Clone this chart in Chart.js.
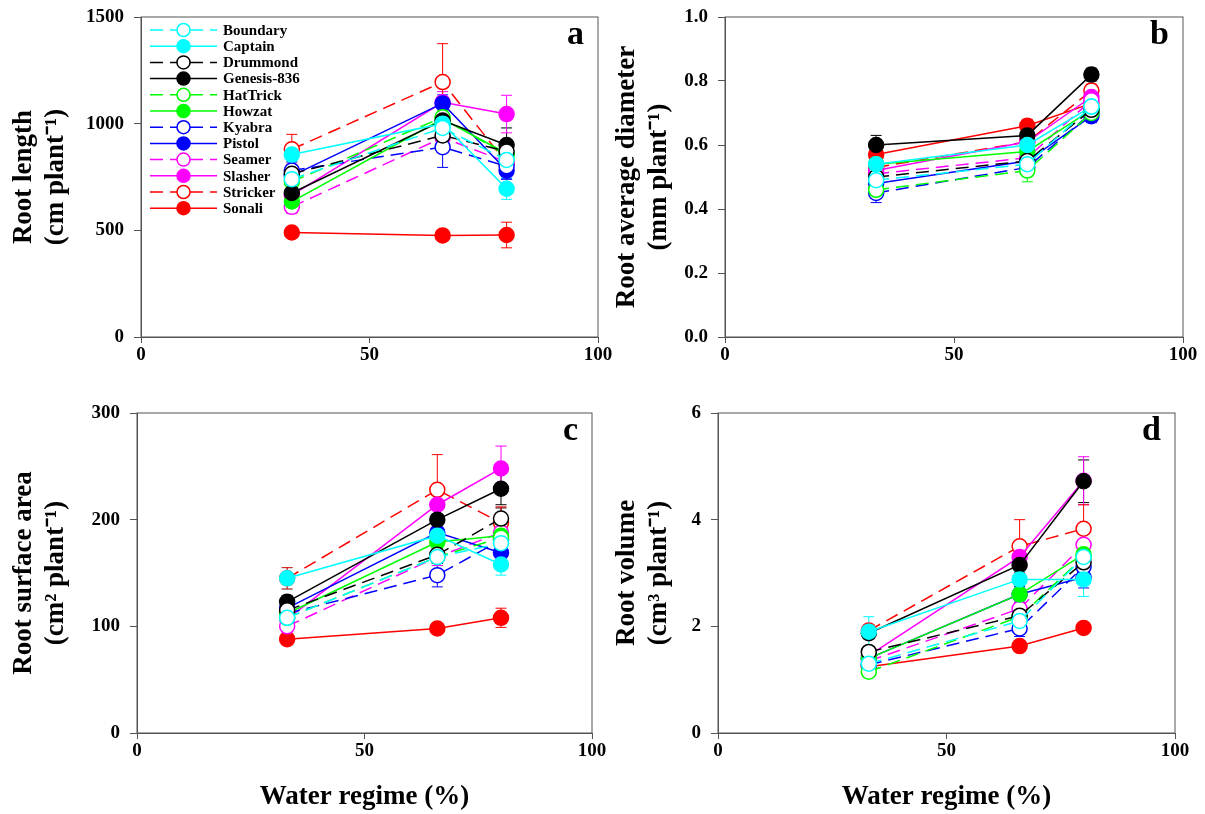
<!DOCTYPE html>
<html>
<head>
<meta charset="utf-8">
<script src="https://cdn.jsdelivr.net/npm/chart.js@4.4.1/dist/chart.umd.min.js"></script>
<style>
body { margin: 0; background: #fff; width: 1205px; height: 814px; position: relative; overflow: hidden; }
.panel { position: absolute; }
</style>
</head>
<body>
<div class="panel" style="left:0;top:0;width:625px;height:400px"><canvas id="chartA"></canvas></div>
<div class="panel" style="left:603px;top:0;width:602px;height:400px"><canvas id="chartB"></canvas></div>
<div class="panel" style="left:0;top:400px;width:625px;height:414px"><canvas id="chartC"></canvas></div>
<div class="panel" style="left:603px;top:400px;width:602px;height:414px"><canvas id="chartD"></canvas></div>
<script>
// water regime levels (%) on the x axis
var waterRegime = [33, 66, 80];
var cultivars = ["Boundary", "Captain", "Drummond", "Genesis-836", "HatTrick", "Howzat",
                 "Kyabra", "Pistol", "Seamer", "Slasher", "Stricker", "Sonali"];

// one row per cultivar, one column per water regime
var rootLength = [
    [740, 980, 830], [855, 1000, 695], [765, 945, 870], [675, 1015, 900],
    [728, 1030, 850], [635, 1022, 860], [780, 890, 800], [755, 1095, 780],
    [610, 935, 820], [665, 1100, 1045], [880, 1195, 815], [490, 476, 478]
];
var rootLengthErr = [
    [30, 40, 40], [30, 40, 50], [30, 40, 40], [30, 40, 80],
    [30, 40, 40], [30, 40, 40], [40, 95, 60], [30, 40, 40],
    [30, 40, 40], [40, 50, 88], [70, 180, 50], [20, 20, 60]
];
var rootDiameter = [
    [0.49, 0.54, 0.72], [0.54, 0.60, 0.72], [0.50, 0.55, 0.71], [0.60, 0.63, 0.82],
    [0.46, 0.52, 0.70], [0.54, 0.58, 0.71], [0.45, 0.53, 0.70], [0.48, 0.55, 0.69],
    [0.51, 0.56, 0.74], [0.52, 0.61, 0.75], [0.53, 0.61, 0.77], [0.57, 0.66, 0.73]
];
var rootDiameterErr = [
    [0.02, 0.02, 0.02], [0.02, 0.02, 0.02], [0.02, 0.02, 0.02], [0.03, 0.02, 0.02],
    [0.02, 0.035, 0.02], [0.02, 0.02, 0.02], [0.03, 0.02, 0.02], [0.02, 0.02, 0.02],
    [0.02, 0.02, 0.02], [0.02, 0.02, 0.02], [0.02, 0.02, 0.02], [0.02, 0.02, 0.02]
];
var rootSurface = [
    [108, 165, 178], [145, 185, 158], [115, 167, 201], [123, 200, 229],
    [108, 165, 183], [112, 179, 185], [112, 148, 181], [117, 188, 169],
    [100, 165, 188], [107, 214, 248], [145, 228, 197], [88, 98, 108]
];
var rootSurfaceErr = [
    [5, 8, 10], [10, 10, 10], [5, 8, 10], [6, 10, 15],
    [5, 8, 10], [5, 8, 10], [6, 11, 15], [5, 8, 10],
    [5, 8, 10], [6, 15, 21], [10, 33, 15], [4, 4, 9]
];
var rootVolume = [
    [1.30, 2.10, 3.30], [1.90, 2.88, 2.88], [1.52, 2.20, 3.20], [1.87, 3.15, 4.72],
    [1.15, 2.18, 3.30], [1.40, 2.60, 3.35], [1.28, 1.96, 3.12], [1.40, 2.60, 2.92],
    [1.35, 2.33, 3.53], [1.45, 3.30, 4.73], [1.92, 3.50, 3.83], [1.24, 1.63, 1.97]
];
var rootVolumeErr = [
    [0.08, 0.15, 0.2], [0.28, 0.15, 0.32], [0.08, 0.15, 0.2], [0.1, 0.15, 0.4],
    [0.08, 0.15, 0.2], [0.08, 0.15, 0.2], [0.08, 0.15, 0.2], [0.08, 0.15, 0.2],
    [0.08, 0.15, 0.2], [0.1, 0.2, 0.45], [0.1, 0.5, 0.45], [0.05, 0.05, 0.05]
];

var seriesColors = ["#00ffff", "#00ffff", "#000000", "#000000", "#00ff00", "#00ff00",
                    "#0000ff", "#0000ff", "#ff00ff", "#ff00ff", "#ff0000", "#ff0000"];
var openMarker = [true, false, true, false, true, false, true, false, true, false, true, false];

Chart.defaults.font.family = "'Liberation Serif', 'Times New Roman', serif";
Chart.defaults.font.weight = "bold";
Chart.defaults.color = "#000";

function makeDatasets(values, errors) {
    return cultivars.map(function (name, i) {
        return {
            label: name,
            data: waterRegime.map(function (x, j) { return { x: x, y: values[i][j] }; }),
            errors: errors[i],
            showLine: true,
            borderColor: seriesColors[i],
            borderWidth: 1.5,
            borderDash: openMarker[i] ? [13, 7] : [],
            pointRadius: 7.5,
            pointHoverRadius: 7.5,
            pointBorderWidth: 1.5,
            pointBorderColor: seriesColors[i],
            pointBackgroundColor: openMarker[i] ? "#fff" : seriesColors[i]
        };
    });
}

// vertical error bars with caps, under the markers
var errorBars = {
    id: "errorBars",
    beforeDatasetsDraw: function (chart) {
        var ctx = chart.ctx, xs = chart.scales.x, ys = chart.scales.y;
        chart.data.datasets.forEach(function (ds) {
            ctx.save();
            ctx.strokeStyle = ds.borderColor;
            ctx.lineWidth = 1;
            ds.data.forEach(function (p, j) {
                var e = ds.errors[j];
                if (!e) return;
                var px = xs.getPixelForValue(p.x);
                var hi = ys.getPixelForValue(p.y + e), lo = ys.getPixelForValue(p.y - e);
                ctx.beginPath();
                ctx.moveTo(px, hi); ctx.lineTo(px, lo);
                ctx.moveTo(px - 5.5, hi); ctx.lineTo(px + 5.5, hi);
                ctx.moveTo(px - 5.5, lo); ctx.lineTo(px + 5.5, lo);
                ctx.stroke();
            });
            ctx.restore();
        });
    }
};

var frame = {
    id: "frame",
    afterDraw: function (chart) {
        var a = chart.chartArea, ctx = chart.ctx;
        ctx.save();
        ctx.strokeStyle = "#555";
        ctx.lineWidth = 1;
        ctx.strokeRect(a.left, a.top, a.right - a.left, a.bottom - a.top);
        ctx.restore();
    }
};

var panelLabel = {
    id: "panelLabel",
    afterDraw: function (chart, args, opts) {
        var a = chart.chartArea, ctx = chart.ctx;
        ctx.save();
        ctx.font = "bold 34px 'Liberation Serif'";
        ctx.fillStyle = "#000";
        ctx.textAlign = "right";
        ctx.textBaseline = "middle";
        ctx.fillText(opts.text, a.right - 14, a.top + 18);
        ctx.restore();
    }
};

// legend inside panel a, top-left corner
var insideLegend = {
    id: "insideLegend",
    afterDraw: function (chart) {
        var ctx = chart.ctx, a = chart.chartArea;
        ctx.save();
        ctx.font = "bold 15px 'Liberation Serif'";
        ctx.textBaseline = "middle";
        ctx.fillStyle = "#000";
        chart.data.datasets.forEach(function (ds, i) {
            var y = a.top + 13 + i * 16.2;
            var x0 = a.left + 9, x1 = a.left + 76, xm = (x0 + x1) / 2;
            ctx.strokeStyle = ds.borderColor;
            ctx.lineWidth = 1.5;
            ctx.setLineDash(ds.borderDash);
            ctx.beginPath();
            ctx.moveTo(x0, y); ctx.lineTo(x1, y);
            ctx.stroke();
            ctx.setLineDash([]);
            ctx.beginPath();
            ctx.arc(xm, y, 6.5, 0, Math.PI * 2);
            ctx.fillStyle = ds.pointBackgroundColor;
            ctx.fill();
            ctx.stroke();
            ctx.fillStyle = "#000";
            ctx.fillText(ds.label, a.left + 82, y + 1);
        });
        ctx.restore();
    }
};

function makeChart(id, values, errors, o) {
    var plugins = [errorBars, frame, panelLabel];
    if (o.legend) plugins.push(insideLegend);
    return new Chart(document.getElementById(id), {
        type: "scatter",
        data: { datasets: makeDatasets(values, errors) },
        options: {
            responsive: true,
            maintainAspectRatio: false,
            animation: false,
            events: [],
            layout: { padding: { top: o.padTop, right: o.padRight, left: 0, bottom: 0 } },
            plugins: {
                legend: { display: false },
                tooltip: { enabled: false },
                panelLabel: { text: o.label }
            },
            scales: {
                x: {
                    type: "linear", min: 0, max: 100,
                    ticks: { stepSize: 50, padding: 1, font: { size: 19, weight: "bold" },
                             callback: function (v) { return String(v); } },
                    grid: { drawOnChartArea: false, tickLength: 6, color: "#555" },
                    border: { color: "#555" },
                    title: { display: o.xTitle, text: "Water regime (%)",
                             font: { size: 27, weight: "bold", lineHeight: 1.2 }, padding: { bottom: 1 } },
                    afterFit: function (s) { s.height = o.xHeight; s.paddingLeft = 0; s.paddingRight = 0; }
                },
                y: {
                    type: "linear", min: 0, max: o.yMax,
                    ticks: { stepSize: o.yStep, padding: 10, font: { size: 19, weight: "bold" },
                             callback: function (v) { return o.decimals ? v.toFixed(1) : String(v); } },
                    grid: { drawOnChartArea: false, tickLength: 7, color: "#555" },
                    border: { color: "#555" },
                    title: { display: true, text: o.yTitle,
                             font: { size: 27, weight: "bold", lineHeight: 1.15 }, padding: { top: 9 } },
                    afterFit: function (s) { s.width = o.yWidth; s.paddingTop = 0; s.paddingBottom = 0; }
                }
            }
        },
        plugins: plugins
    });
}

makeChart("chartA", rootLength, rootLengthErr, {
    label: "a", legend: true, padTop: 17, padRight: 27, yWidth: 141, xHeight: 63, xTitle: false,
    yMax: 1500, yStep: 500, yTitle: ["Root length", "(cm plant\u207B\u00B9)"]
});
makeChart("chartB", rootDiameter, rootDiameterErr, {
    label: "b", padTop: 17, padRight: 22, yWidth: 122, xHeight: 63, xTitle: false,
    yMax: 1.0, yStep: 0.2, decimals: true, yTitle: ["Root average diameter", "(mm plant\u207B\u00B9)"]
});
makeChart("chartC", rootSurface, rootSurfaceErr, {
    label: "c", padTop: 13, padRight: 33, yWidth: 137, xHeight: 81, xTitle: true,
    yMax: 300, yStep: 100, yTitle: ["Root surface area", "(cm\u00B2 plant\u207B\u00B9)"]
});
makeChart("chartD", rootVolume, rootVolumeErr, {
    label: "d", padTop: 13, padRight: 30, yWidth: 115, xHeight: 81, xTitle: true,
    yMax: 6, yStep: 2, yTitle: ["Root volume", "(cm\u00B3 plant\u207B\u00B9)"]
});
</script>
</body>
</html>
